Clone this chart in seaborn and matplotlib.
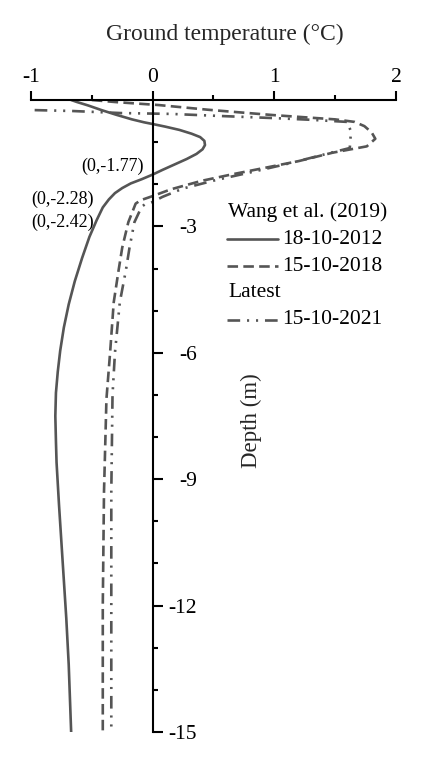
import numpy as np
import pandas as pd
import matplotlib
matplotlib.use('Agg')
import matplotlib.pyplot as plt
import seaborn as sns

# ── data (temperature in degC, depth in m) ──
temp_2012 = [-0.67, -0.62, -0.53, -0.42, -0.30, -0.17, -0.07, 0.00, 0.10, 0.22, 0.32,
             0.39, 0.425, 0.43, 0.41, 0.36, 0.28, 0.18, 0.08, 0.00, -0.09, -0.18,
             -0.25, -0.31, -0.36, -0.41, -0.46, -0.52, -0.58, -0.64, -0.69, -0.73,
             -0.76, -0.78, -0.795, -0.80, -0.795, -0.79, -0.77, -0.75, -0.73, -0.71,
             -0.69, -0.67]
depth_2012 = [0.0, -0.05, -0.13, -0.24, -0.35, -0.46, -0.53, -0.57, -0.63, -0.71, -0.80,
              -0.88, -0.97, -1.07, -1.17, -1.28, -1.40, -1.53, -1.66, -1.77, -1.88, -1.98,
              -2.09, -2.21, -2.36, -2.55, -2.85, -3.25, -3.75, -4.30, -4.85, -5.40,
              -5.95, -6.45, -6.95, -7.50, -8.10, -8.60, -9.60, -10.5, -11.4, -12.3,
              -13.4, -15.0]

temp_2018 = [-0.50, -0.30, 0.05, 0.45, 0.70, 1.00, 1.25, 1.50, 1.66, 1.74, 1.80, 1.83,
             1.76, 1.48, 1.20, 0.94, 0.66, 0.40, 0.15, 0.00, -0.10, -0.14, -0.20, -0.25,
             -0.28, -0.32, -0.35, -0.38, -0.40, -0.41, -0.41]
depth_2018 = [0.0, -0.05, -0.12, -0.23, -0.29, -0.36, -0.41, -0.46, -0.52, -0.62, -0.77,
              -0.92, -1.10, -1.25, -1.45, -1.60, -1.76, -1.92, -2.12, -2.28, -2.38, -2.46,
              -2.90, -3.50, -4.04, -4.80, -6.00, -7.10, -9.30, -12.0, -15.0]

temp_2021 = [-0.97, -0.67, -0.26, 0.15, 0.56, 1.00, 1.30, 1.60, 1.63, 1.62, 1.40, 1.10,
             0.80, 0.52, 0.25, 0.08, 0.00, -0.06, -0.09, -0.15, -0.19, -0.22, -0.27,
             -0.31, -0.33, -0.34, -0.34, -0.34]
depth_2021 = [-0.24, -0.26, -0.31, -0.33, -0.38, -0.43, -0.47, -0.52, -0.75, -1.14, -1.30,
              -1.52, -1.72, -1.90, -2.10, -2.30, -2.42, -2.47, -2.53, -2.90, -3.50, -4.04,
              -4.80, -6.00, -7.00, -9.30, -12.0, -15.0]

series_names = ['18-10-2012', '15-10-2018', '15-10-2021']
zero_depths = [-1.77, -2.28, -2.42]

x_major = [-1, 0, 1, 2]
x_minor = [-0.5, 0.5, 1.5]
y_major = [-3, -6, -9, -12, -15]

df = pd.concat([
    pd.DataFrame({'temp': temp_2012, 'depth': depth_2012, 'series': series_names[0]}),
    pd.DataFrame({'temp': temp_2018, 'depth': depth_2018, 'series': series_names[1]}),
    pd.DataFrame({'temp': temp_2021, 'depth': depth_2021, 'series': series_names[2]}),
], ignore_index=True)

# ── style ──
sns.set_style('white')
plt.rcParams['font.family'] = ['Liberation Serif', 'DejaVu Serif']
plt.rcParams['text.color'] = 'black'
plt.rcParams['axes.edgecolor'] = 'black'
plt.rcParams['xtick.color'] = 'black'
plt.rcParams['ytick.color'] = 'black'

grey = '#555555'
line_dashes = {
    series_names[0]: '',
    series_names[1]: (4, 2),
    series_names[2]: (4.8, 2.6, 0.8, 2.6, 0.8, 2.6),
}
palette = {name: grey for name in series_names}

fig = plt.figure(figsize=(4.24, 7.68), dpi=100)
ax = fig.add_axes([31 / 424, 36 / 768, 365 / 424, 632 / 768])

sns.lineplot(data=df, x='temp', y='depth', hue='series', style='series',
             palette=palette, dashes=line_dashes, sort=False, estimator=None,
             linewidth=1.9, legend=False, ax=ax)

ax.set_xlim(-1, 2)
ax.set_ylim(-15, 0)

# ── spines: temperature axis on top, depth axis running through 0 ──
ax.spines['left'].set_visible(False)
ax.spines['bottom'].set_visible(False)
ax.spines['top'].set_linewidth(1.5)
ax.spines['right'].set_linewidth(1.5)
ax.spines['right'].set_position(('data', 0))

ax.xaxis.tick_top()
ax.yaxis.tick_right()
ax.set_xticks(x_major)
ax.set_xticks(x_minor, minor=True)
ax.set_xticklabels([str(v) for v in x_major])
ax.set_yticks(y_major)
ax.set_yticks([v for v in range(-14, 0) if v % 3 != 0], minor=True)
ax.set_yticklabels([str(v) for v in y_major])

ax.tick_params(axis='x', which='major', direction='out', length=6.5, width=1.5,
               labelsize=15.5, pad=3)
ax.tick_params(axis='x', which='minor', direction='out', length=3.5, width=1.5)
ax.tick_params(axis='y', which='major', direction='out', length=7, width=1.5,
               labelsize=15.5, pad=25)
ax.tick_params(axis='y', which='minor', direction='out', length=3.5, width=1.5)
plt.setp(ax.get_yticklabels(), ha='right')

ax.set_xlabel('Ground temperature (\u00b0C)', fontsize=17)
ax.xaxis.set_label_position('top')
ax.xaxis.set_label_coords(0.532, 1.104)
ax.xaxis.label.set_va('center')

ax.set_ylabel('Depth (m)', fontsize=16.5)
ax.yaxis.set_label_position('right')
ax.yaxis.set_label_coords(0.605, 0.492)
ax.yaxis.label.set_va('center')

# ── zero-crossing annotations ──
offsets = [(-9, 8), (-59, -3), (-59, -20)]
for d, off in zip(zero_depths, offsets):
    ax.annotate(f'(0,{d})', xy=(0, d), xytext=off, textcoords='offset pixels',
                ha='right', va='center', fontsize=13)

# ── grouped legend drawn by hand ──
rows = [0.823, 0.780, 0.737, 0.695, 0.652]
ax.text(0.540, rows[0], 'Wang et al. (2019)', transform=ax.transAxes,
        ha='left', va='center', fontsize=15.5)
ax.text(0.540, rows[3], 'Latest', transform=ax.transAxes,
        ha='left', va='center', fontsize=15.5)
for name, r in zip(series_names, [rows[1], rows[2], rows[4]]):
    ls = '-' if line_dashes[name] == '' else (0, line_dashes[name])
    ax.plot([0.537, 0.677], [r, r], transform=ax.transAxes, color=grey,
            linewidth=1.9, linestyle=ls, clip_on=False)
    ax.text(0.688, r, name, transform=ax.transAxes, ha='left', va='center',
            fontsize=15.5)

fig.savefig('out.png', dpi=100)
